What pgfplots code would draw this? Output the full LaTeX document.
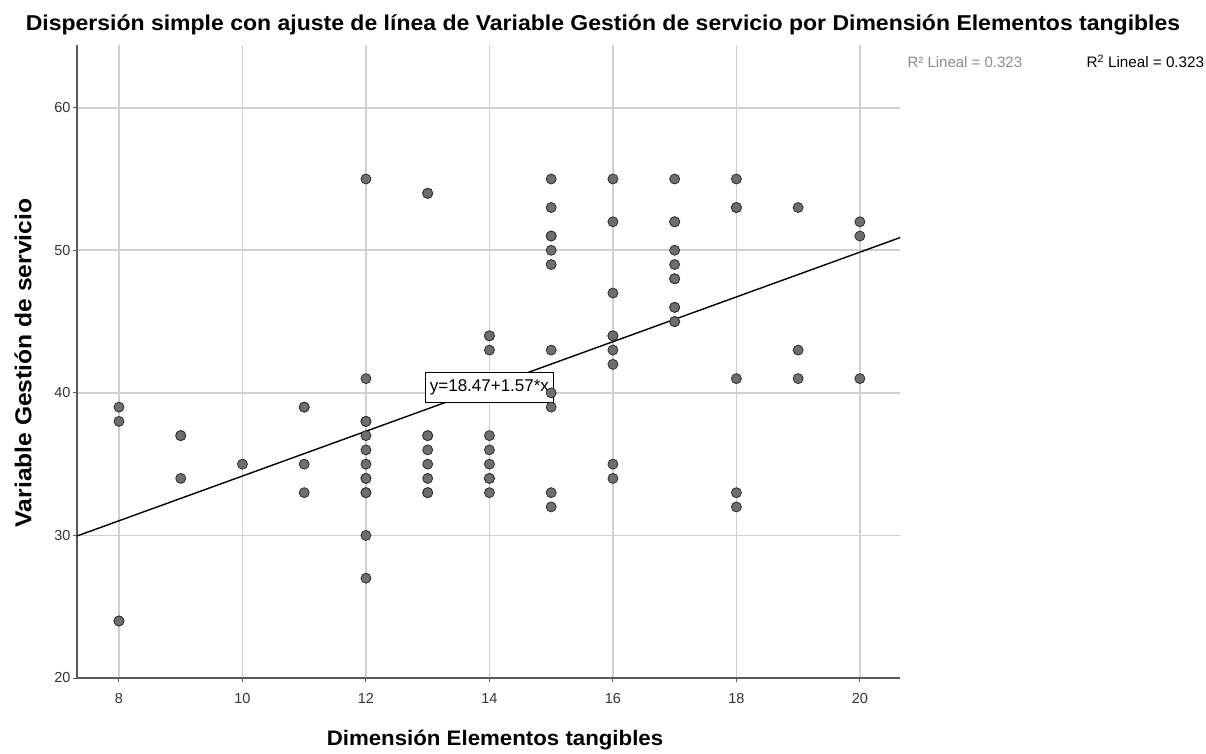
\documentclass[border=0pt]{standalone}
\usepackage{graphicx}
\usepackage{pgfplots}
\pgfplotsset{compat=1.18}
\usepackage{pgfplotstable}
\usepackage{fontspec}
\setmainfont{Liberation Sans}

\definecolor{gridc}{HTML}{D0D0D0}
\definecolor{spinec}{HTML}{5A5A5A}
\definecolor{ptfill}{HTML}{6E6E6E}
\definecolor{ptedge}{HTML}{2E2E2E}
\definecolor{ticktxt}{HTML}{333333}
\definecolor{softtxt}{HTML}{8C8C8C}

% Dimensión Elementos tangibles (x) vs Variable Gestión de servicio (y)
\pgfplotstableread{
x y
8 39
8 38
8 24
8 24
9 37
9 37
9 34
10 35
11 39
11 39
11 35
11 33
12 55
12 41
12 38
12 38
12 37
12 36
12 35
12 34
12 34
12 33
12 33
12 30
12 27
13 54
13 54
13 37
13 37
13 36
13 35
13 34
13 33
13 33
14 44
14 44
14 43
14 37
14 36
14 35
14 34
14 34
14 33
15 55
15 53
15 51
15 51
15 50
15 49
15 43
15 40
15 39
15 33
15 32
16 55
16 52
16 47
16 44
16 44
16 43
16 42
16 35
16 34
17 55
17 52
17 52
17 50
17 49
17 48
17 48
17 46
17 46
17 45
17 45
18 55
18 53
18 53
18 41
18 33
18 32
19 53
19 43
19 41
20 52
20 51
20 41
}\puntos

% Fitted line y = 18.47 + 1.57x, evaluated at the axis limits
\pgfplotstableread{
x y
7.32 29.96
20.65 50.89
}\ajuste

\begin{document}
\begin{tikzpicture}[x=1pt,y=1pt]
\useasboundingbox (0,0) rectangle (1206,753);

\begin{axis}[
  at={(77pt,75pt)}, anchor=south west,
  scale only axis, width=823pt, height=633pt,
  xmin=7.32, xmax=20.65, ymin=20, ymax=64.4,
  axis x line*=bottom, axis y line*=left,
  axis line style={color=spinec, line width=1.4pt},
  xtick={8,10,...,20}, ytick={20,30,...,60},
  tick align=outside, major tick length=4pt,
  tick style={color=spinec, line width=1pt},
  grid=major, grid style={color=gridc, line width=1.6pt},
  ticklabel style={font=\fontsize{14.5}{16}\selectfont, text=ticktxt},
  xticklabel style={yshift=-8pt},
  yticklabel style={xshift=1pt},
  /pgf/number format/assume math mode=true,
  clip=false,
]
\addplot[only marks, mark=*, mark size=5pt,
  mark options={fill=ptfill, draw=ptedge, line width=0.8pt}]
  table[x=x, y=y] {\puntos};
\addplot[black, line width=1.4pt, no marks] table[x=x, y=y] {\ajuste};
\node[draw=black, fill=white, line width=0.8pt, inner sep=0pt,
  minimum width=128pt, minimum height=30pt,
  font=\fontsize{17}{18}\selectfont]
  at (axis cs:14,40.4) {y=18.47+1.57*x};
\end{axis}

% Title and axis titles
\node[font=\bfseries\fontsize{21.5}{26}\selectfont] at (603,728)
  {\scalebox{1.07}[1]{Dispersión simple con ajuste de línea de Variable Gestión de servicio por Dimensión Elementos tangibles}};
\node[font=\bfseries\fontsize{23}{26}\selectfont, rotate=90] at (23,390)
  {\scalebox{1.07}[1]{Variable Gestión de servicio}};
\node[font=\bfseries\fontsize{21}{24}\selectfont] at (495,13)
  {\scalebox{1.06}[1]{Dimensión Elementos tangibles}};

% Fit-line legend
\node[anchor=west, text=softtxt, font=\fontsize{15}{17}\selectfont] at (904,691)
  {R² Lineal = 0.323};
\node[anchor=west, text=black, font=\fontsize{15.2}{17}\selectfont] at (1083,692)
  {R\textsuperscript{2} Lineal = 0.323};
\end{tikzpicture}
\end{document}
